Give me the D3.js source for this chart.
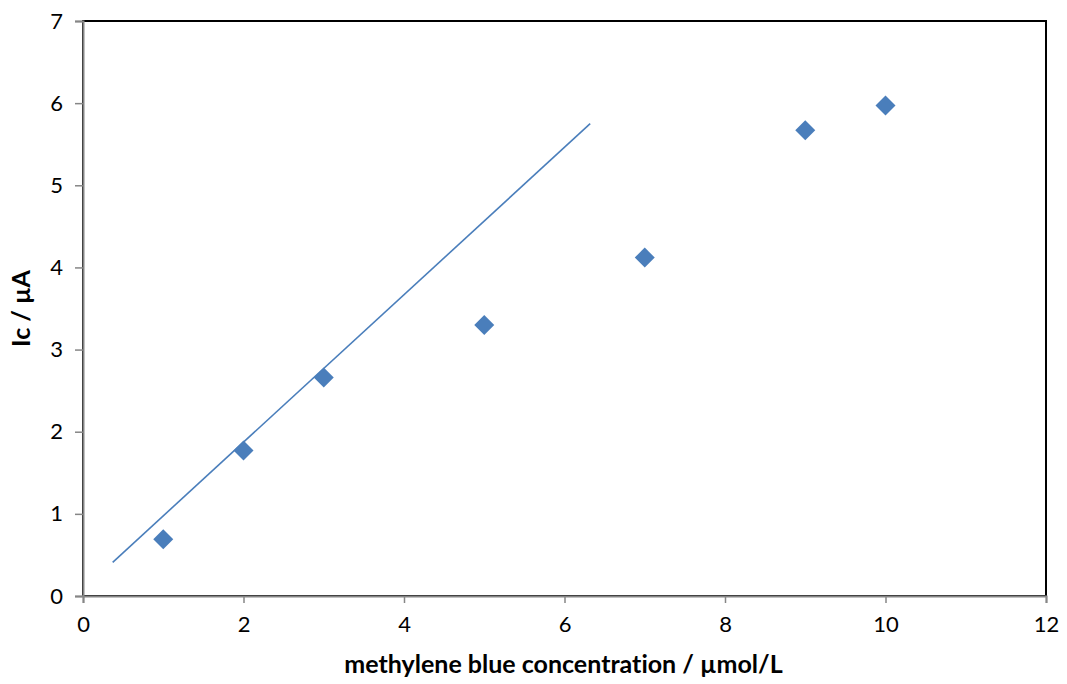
<!DOCTYPE html>
<html>
<head>
<meta charset="utf-8">
<script src="https://cdn.jsdelivr.net/npm/d3@7"></script>
<style>
  body { margin: 0; background: #fff; }
  svg text { font-family: Lato, "Open Sans", sans-serif; font-variant-ligatures: none; }
</style>
</head>
<body>
<div id="chart"></div>
<script>
// measured points: concentration (µmol/L) vs Ic (µA)
const concentration = [1, 2, 3, 5, 7, 9, 10];
const current = [0.69, 1.77, 2.66, 3.30, 4.12, 5.67, 5.97];

// fitted line, drawn only over the linear range
const trendX = [0.37, 6.32];
const trendY = [0.41, 5.75];

const xTicks = [0, 2, 4, 6, 8, 10, 12];
const yTicks = [0, 1, 2, 3, 4, 5, 6, 7];

const WIDTH = 1067, HEIGHT = 684;
const margin = { top: 21, right: 21, bottom: 88, left: 83 };
const COLOR = "#4a7ebb";

const svg = d3.select("#chart").append("svg")
    .attr("width", WIDTH)
    .attr("height", HEIGHT);

const x = d3.scaleLinear().domain([0, 12]).range([margin.left, WIDTH - margin.right]);
const y = d3.scaleLinear().domain([0, 7]).range([HEIGHT - margin.bottom, margin.top]);

// plot area frame (top and right in black)
svg.append("rect")
    .attr("x", x(0)).attr("y", y(7))
    .attr("width", x(12) - x(0)).attr("height", y(0) - y(7))
    .attr("fill", "none").attr("stroke", "#000").attr("stroke-width", 2);

// axes in gray
const xAxis = svg.append("g")
    .attr("transform", `translate(0, ${y(0)})`)
    .call(d3.axisBottom(x).tickValues(xTicks).tickSize(7).tickPadding(13).tickFormat(d3.format("d")));
const yAxis = svg.append("g")
    .attr("transform", `translate(${x(0)}, 0)`)
    .call(d3.axisLeft(y).tickValues(yTicks).tickSize(8).tickPadding(12).tickFormat(d3.format("d")));

[xAxis, yAxis].forEach(g => {
    g.select(".domain").attr("stroke", "#868686").attr("stroke-width", 2);
    g.selectAll(".tick line").attr("stroke", "#868686").attr("stroke-width", 1.5);
    g.selectAll(".tick text").attr("fill", "#000").style("font-size", "22px");
});

// trend line
svg.append("line")
    .attr("x1", x(trendX[0])).attr("y1", y(trendY[0]))
    .attr("x2", x(trendX[1])).attr("y2", y(trendY[1]))
    .attr("stroke", COLOR).attr("stroke-width", 1.6);

// diamond markers
const diamond = d3.symbol().type(d3.symbolSquare).size(200);
svg.selectAll("path.pt")
    .data(concentration.map((c, i) => ({ c, v: current[i] })))
    .enter().append("path")
    .attr("class", "pt")
    .attr("d", diamond)
    .attr("transform", d => `translate(${x(d.c)}, ${y(d.v)}) rotate(45)`)
    .attr("fill", COLOR);

// axis titles
svg.append("text")
    .attr("x", (x(0) + x(12)) / 2 - 1)
    .attr("y", 673)
    .attr("text-anchor", "middle")
    .style("font-size", "25px").style("font-weight", "bold")
    .text("methylene blue concentration / µmol/L");

svg.append("text")
    .attr("transform", `translate(30, ${(y(0) + y(7)) / 2}) rotate(-90)`)
    .attr("text-anchor", "middle")
    .style("font-size", "25px").style("font-weight", "bold")
    .text("Ic / µA");
</script>
</body>
</html>
